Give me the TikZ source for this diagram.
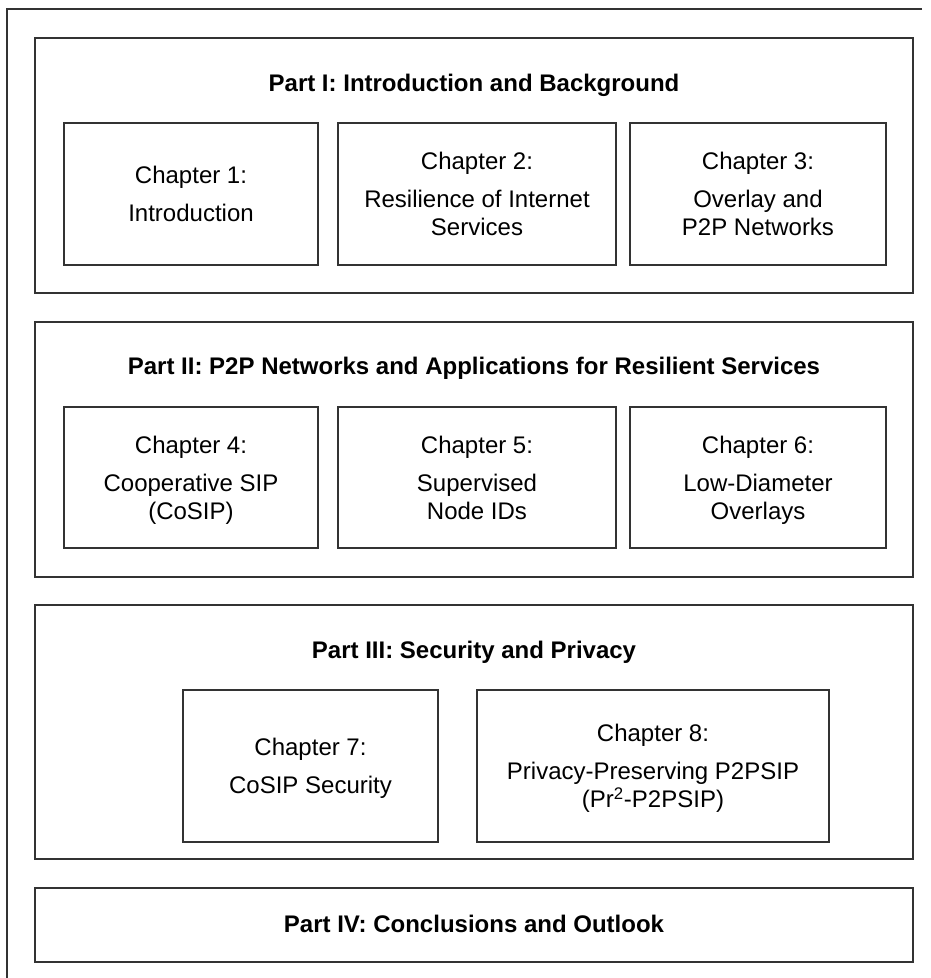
\documentclass[tikz,border=0pt]{standalone}
\usepackage{fontspec}
\setmainfont{Liberation Sans}
\def\u{0.75pt}
\newcommand\nodepth[1]{\raisebox{0pt}[\height][0pt]{#1}}
\begin{document}
\begin{tikzpicture}[x=0.75pt,y=-0.75pt,
  frameline/.style={draw=black!80,line width=1.2pt},
  partbox/.style={frameline,inner sep=0pt,minimum width=878*\u},
  chapbox/.style={frameline,inner sep=0pt,align=center,font=\fontsize{18pt}{21pt}\selectfont},
  parttitle/.style={anchor=base,inner sep=0pt,font=\fontsize{18pt}{21pt}\selectfont\bfseries}]
\useasboundingbox (0,0) rectangle (931,978);
% outer frame (cropped at right and bottom)
\coordinate (ftr) at (922,9);
\coordinate (ftl) at (7,9);
\coordinate (fbl) at (7,978);
\draw[frameline] (ftr) -- (ftl) -- (fbl);

% Part I
\node[partbox,minimum height=255*\u] (p1) at (474,165.5) {};
\node[parttitle] (t1) at (474,91) {Part I: Introduction and Background};
\node[chapbox,minimum width=254*\u,minimum height=142*\u] (c1) at (191,194) {Chapter 1:\\[7.5pt]Introduction};
\node[chapbox,minimum width=278*\u,minimum height=142*\u] (c2) at (477,194) {Chapter 2:\\[7.5pt]Resilience of Internet\\Services};
\node[chapbox,minimum width=256*\u,minimum height=142*\u] (c3) at (758,194) {Chapter 3:\\[7.5pt]Overlay and\\P2P Networks};

% Part II
\node[partbox,minimum height=255*\u] (p2) at (474,449.5) {};
\node[parttitle] (t2) at (474,374) {Part II: P2P Networks and Applications for Resilient Services};
\node[chapbox,minimum width=254*\u,minimum height=141*\u] (c4) at (191,477.5) {Chapter 4:\\[7.5pt]Cooperative SIP\\\nodepth{(CoSIP)}};
\node[chapbox,minimum width=278*\u,minimum height=141*\u] (c5) at (477,477.5) {Chapter 5:\\[7.5pt]Supervised\\Node IDs};
\node[chapbox,minimum width=256*\u,minimum height=141*\u] (c6) at (758,477.5) {Chapter 6:\\[7.5pt]Low-Diameter\\\nodepth{Overlays}};

% Part III
\node[partbox,minimum height=254*\u] (p3) at (474,732) {};
\node[parttitle] (t3) at (474,658) {Part III: Security and Privacy};
\node[chapbox,minimum width=255*\u,minimum height=152*\u] (c7) at (310.5,766) {Chapter 7:\\[7.5pt]\nodepth{CoSIP Security}};
\node[chapbox,minimum width=352*\u,minimum height=152*\u] (c8) at (653,766) {Chapter 8:\\[7.5pt]Privacy-Preserving P2PSIP\\\nodepth{(Pr\textsuperscript{2}-P2PSIP)}};

% Part IV
\node[partbox,minimum height=74*\u] (p4) at (474,925) {};
\node[parttitle] (t4) at (474,932) {Part IV: Conclusions and Outlook};
\end{tikzpicture}
\end{document}
